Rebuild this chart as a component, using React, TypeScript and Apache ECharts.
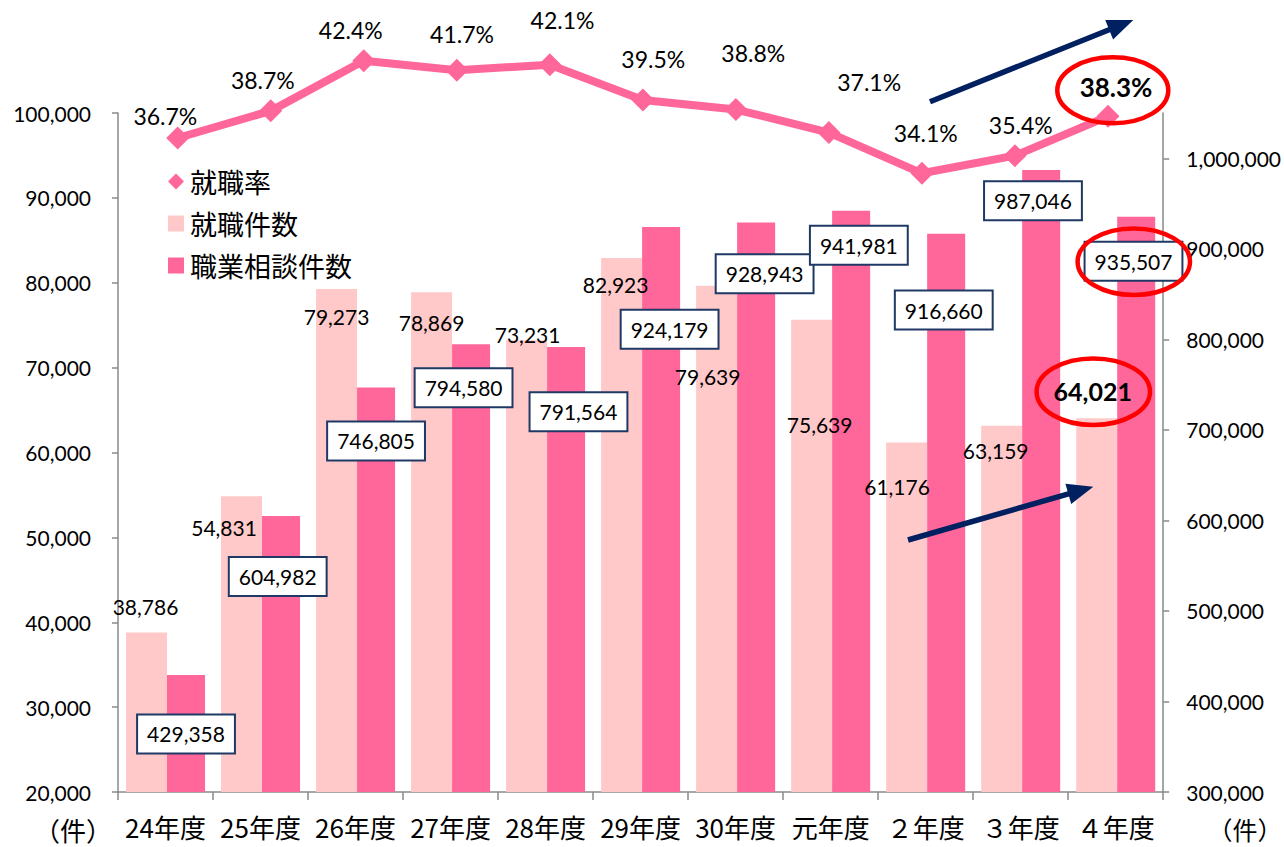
import React, { useEffect, useRef } from 'react';
import * as echarts from 'echarts';

const categories = ['24年度', '25年度', '26年度', '27年度', '28年度', '29年度', '30年度', '元年度', '２年度', '３年度', '４年度'];
const placementCounts = [38786, 54831, 79273, 78869, 73231, 82923, 79639, 75639, 61176, 63159, 64021];
const consultationCounts = [429358, 604982, 746805, 794580, 791564, 924179, 928943, 941981, 916660, 987046, 935507];
const placementRates = [36.7, 38.7, 42.4, 41.7, 42.1, 39.5, 38.8, 37.1, 34.1, 35.4, 38.3];

const leftTicks = { min: 20000, max: 100000, interval: 10000 };
const rightTicks = { min: 300000, max: 1050000, interval: 100000 };

// label offsets (style only): [dx, dy] from the bar top / point centre
const placementLabelOffsets = [[-1, -25.6], [-17.5, 30.7], [0, 27.4], [0, 30], [1, -6], [-6, 26.4], [-9, 91], [8, 105], [-9.6, 44], [-6, 25.3], [-4, -27.7]];
const consultationLabelOffsets = [[0, 59], [-3.3, 60.5], [0, 53.5], [-7.5, 43.5], [12.4, 64.7], [8.5, 102.3], [8.5, 51.2], [7.7, 34.5], [-2.4, 76.3], [-8.2, 30.8], [-2.7, 44.6]];
const rateLabelOffsets = [[-12.4, -22], [-7.9, -30.9], [-13, -30.7], [5.2, -36.2], [12.7, -44.7], [10.4, -40.7], [17.4, -56.2], [40.3, -50.9], [3.8, -40.6], [5.8, -30.7], [8, -29.6]];

const NUM_FONT = 'Lato, "Open Sans", sans-serif';
const JP_FONT = '"Noto Sans CJK JP", "Noto Sans", sans-serif';
const AXIS_GRAY = '#8a8a8a';
const NAVY = '#002060';

function arrow(tail: number[], tip: number[]) {
  const dx = tip[0] - tail[0];
  const dy = tip[1] - tail[1];
  const len = Math.sqrt(dx * dx + dy * dy);
  const ux = dx / len, uy = dy / len;
  const headLen = 26, headHalf = 10.5;
  const bx = tip[0] - ux * headLen, by = tip[1] - uy * headLen;
  const px = -uy, py = ux;
  return [
    {
      type: 'line',
      shape: { x1: tail[0], y1: tail[1], x2: bx + ux * 2, y2: by + uy * 2 },
      style: { stroke: NAVY, lineWidth: 5.5 },
      z: 100,
    },
    {
      type: 'polygon',
      shape: { points: [[tip[0], tip[1]], [bx + px * headHalf, by + py * headHalf], [bx - px * headHalf, by - py * headHalf]] },
      style: { fill: NAVY },
      z: 100,
    },
  ];
}

function ellipse(cx: number, cy: number, rx: number, ry: number) {
  return {
    type: 'ellipse',
    shape: { cx, cy, rx, ry },
    style: { fill: 'none', stroke: '#ff0000', lineWidth: 4.5 },
    z: 100,
  };
}

export default function App() {
  const ref = useRef<HTMLDivElement>(null);
  useEffect(() => {
    const chart = echarts.init(ref.current!, null, { renderer: 'svg' });
    const fmt = (v: number) => v.toLocaleString('en-US');
    const axisLine = { show: true, lineStyle: { color: AXIS_GRAY, width: 1.5 } };
    const option: any = {
      animation: false,
      backgroundColor: '#ffffff',
      grid: [
        { left: 118, right: 120.7, top: 113, bottom: 55 },
        { left: 131.2, width: 1023.3, top: 0, height: 792 },
      ],
      legend: {
        orient: 'vertical',
        left: 163,
        top: 163,
        itemWidth: 16,
        itemHeight: 16,
        itemGap: 15,
        textStyle: { fontSize: 27, fontFamily: JP_FONT, color: '#000', padding: [0, 0, 0, 1] },
        data: [
          { name: '就職率', icon: 'diamond' },
          { name: '就職件数', icon: 'rect' },
          { name: '職業相談件数', icon: 'rect' },
        ],
      },
      xAxis: [
        {
          type: 'category',
          gridIndex: 0,
          data: categories,
          axisLine,
          axisTick: { show: true, length: 8, lineStyle: { color: AXIS_GRAY, width: 1.5 } },
          axisLabel: { interval: 0, fontSize: 26, fontFamily: JP_FONT, color: '#000', margin: 21 },
        },
        { type: 'category', gridIndex: 1, data: categories, show: false },
      ],
      yAxis: [
        {
          type: 'value',
          gridIndex: 0,
          min: leftTicks.min,
          max: leftTicks.max,
          interval: leftTicks.interval,
          axisLine,
          axisTick: { show: true, length: 6, lineStyle: { color: AXIS_GRAY, width: 1.5 } },
          splitLine: { show: false },
          axisLabel: { fontSize: 21, fontFamily: NUM_FONT, color: '#000', margin: 27, formatter: (v: number) => fmt(v) },
        },
        {
          type: 'value',
          gridIndex: 0,
          position: 'right',
          min: rightTicks.min,
          max: rightTicks.max,
          interval: rightTicks.interval,
          axisLine,
          axisTick: { show: true, length: 6, lineStyle: { color: AXIS_GRAY, width: 1.5 } },
          splitLine: { show: false },
          axisLabel: { fontSize: 21, fontFamily: NUM_FONT, color: '#000', margin: 23, showMaxLabel: false, formatter: (v: number) => fmt(v) },
        },
        { type: 'value', gridIndex: 1, min: -11.49, max: 46.87, show: false },
      ],
      series: [
        {
          name: '就職件数',
          type: 'bar',
          xAxisIndex: 0,
          yAxisIndex: 0,
          barWidth: 41,
          barGap: '0%',
          itemStyle: { color: '#ffc9c9' },
          label: {
            show: true,
            position: 'top',
            distance: 0,
            align: 'center',
            verticalAlign: 'middle',
            fontSize: 21,
            fontFamily: NUM_FONT,
            color: '#000',
            formatter: (p: any) => fmt(p.value),
          },
          data: placementCounts.map((v, i) => ({
            value: v,
            label: i === placementCounts.length - 1
              ? { offset: placementLabelOffsets[i], fontWeight: 'bold', fontSize: 25 }
              : { offset: placementLabelOffsets[i] },
          })),
          z: 2,
        },
        {
          name: '職業相談件数',
          type: 'bar',
          xAxisIndex: 0,
          yAxisIndex: 1,
          barWidth: 38,
          barGap: '0%',
          itemStyle: { color: '#ff6699' },
          label: {
            show: true,
            position: 'top',
            distance: 0,
            align: 'center',
            verticalAlign: 'middle',
            fontSize: 21,
            lineHeight: 21,
            fontFamily: NUM_FONT,
            color: '#000',
            backgroundColor: '#ffffff',
            borderColor: '#1f3864',
            borderWidth: 2,
            padding: [8, 9],
            formatter: (p: any) => fmt(p.value),
          },
          data: consultationCounts.map((v, i) => ({ value: v, label: { offset: consultationLabelOffsets[i] } })),
          z: 2,
        },
        {
          name: '就職率',
          type: 'line',
          xAxisIndex: 1,
          yAxisIndex: 2,
          clip: false,
          symbol: 'diamond',
          symbolSize: 23,
          lineStyle: { color: '#ff6699', width: 8 },
          itemStyle: { color: '#ff6699' },
          label: {
            show: true,
            position: 'inside',
            align: 'center',
            verticalAlign: 'middle',
            fontSize: 23,
            fontFamily: NUM_FONT,
            color: '#000',
            formatter: (p: any) => p.value.toFixed(1) + '%',
          },
          data: placementRates.map((v, i) => ({
            value: v,
            label: i === placementRates.length - 1
              ? { offset: rateLabelOffsets[i], fontWeight: 'bold', fontSize: 26 }
              : { offset: rateLabelOffsets[i] },
          })),
          z: 5,
        },
      ],
      graphic: [
        ...arrow([930, 101.7], [1133.3, 20]),
        ...arrow([908, 540], [1093.3, 486.7]),
        ellipse(1112.8, 90.3, 55.5, 33),
        ellipse(1133.8, 261.7, 56.2, 33.3),
        ellipse(1093.3, 391.7, 56.7, 33.3),
        {
          type: 'text',
          x: 73,
          y: 829,
          style: { text: '（件）', fontSize: 26, fontFamily: JP_FONT, fill: '#000', align: 'center', verticalAlign: 'middle' },
          z: 100,
        },
        {
          type: 'text',
          x: 1245,
          y: 829,
          style: { text: '（件）', fontSize: 25, fontFamily: JP_FONT, fill: '#000', align: 'center', verticalAlign: 'middle' },
          z: 100,
        },
      ],
    };
    chart.setOption(option);
    return () => chart.dispose();
  }, []);
  return <div ref={ref} style={{ position: 'absolute', left: 0, top: 0, width: 1284, height: 847 }} />;
}
